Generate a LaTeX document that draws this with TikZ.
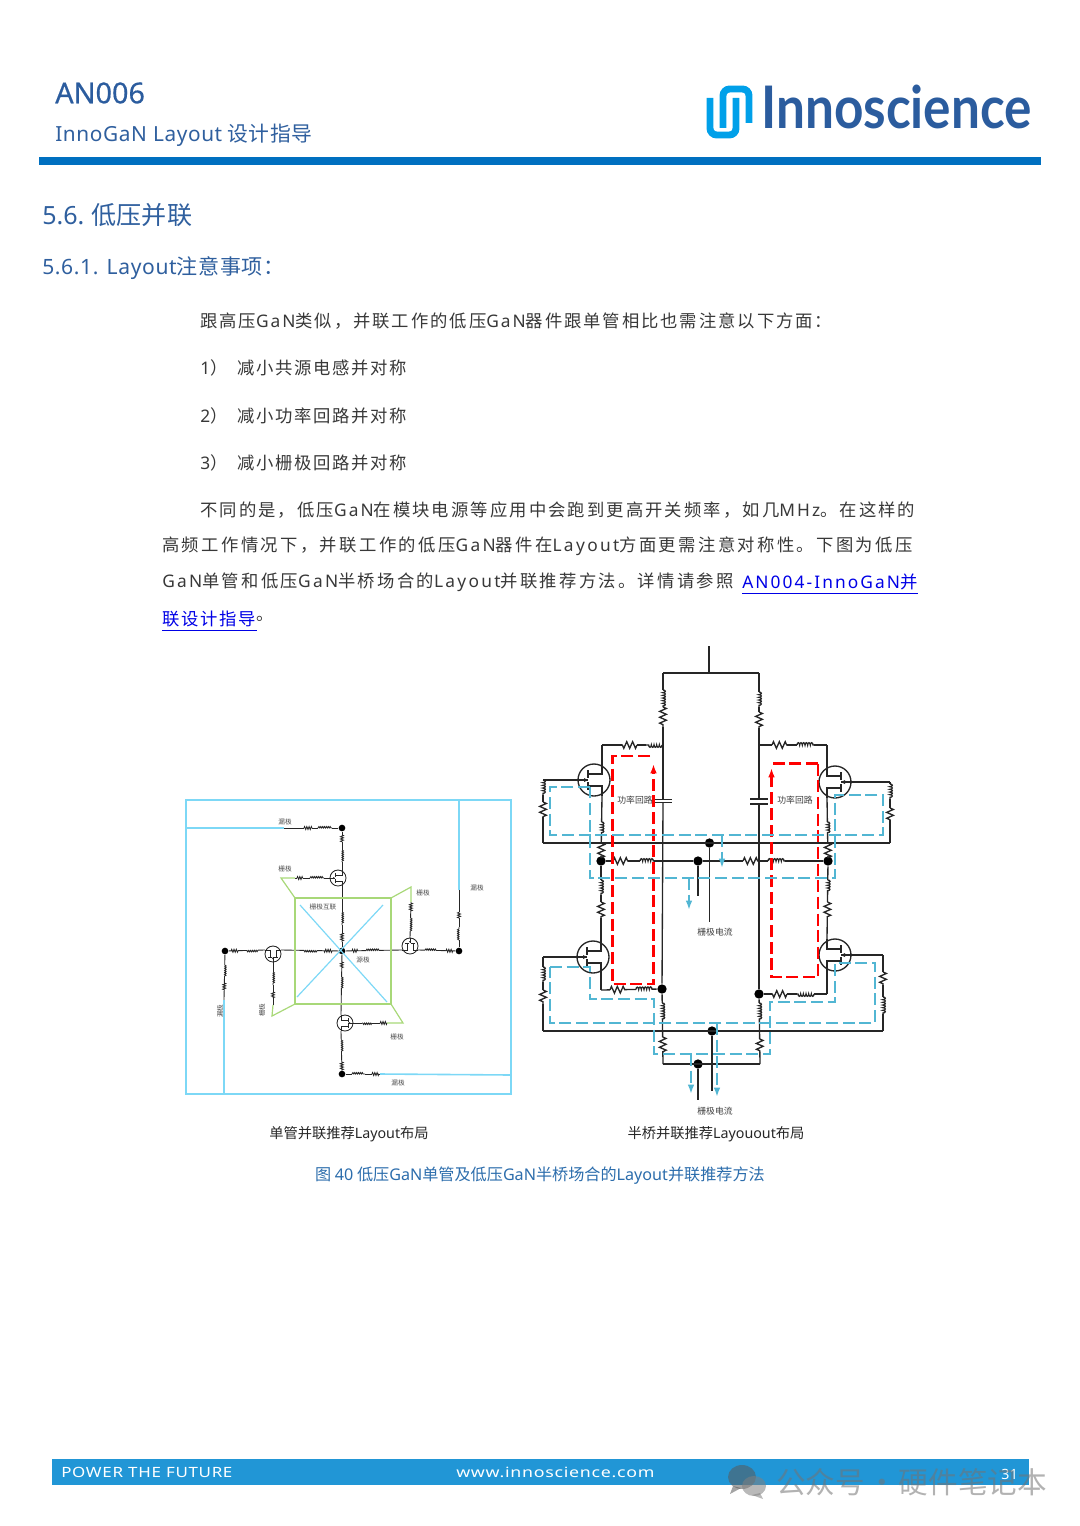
\documentclass[tikz,border=0pt]{standalone}
\usepackage{fontspec}
\usepackage{tikz}
\usetikzlibrary{calc,arrows.meta,decorations.pathmorphing}

\setmainfont{Noto Sans CJK SC}
\newfontfamily\latfont{Noto Sans}
\newfontfamily\medfont[FakeBold=0.5]{Noto Sans}
\newfontfamily\headfont[LetterSpace=3]{Noto Sans CJK SC}
\newfontfamily\headlat[LetterSpace=3]{Noto Sans}
\newfontfamily\bodyfont[LetterSpace=10]{Noto Sans CJK SC}
\newfontfamily\bodylat[LetterSpace=11]{Noto Sans}
\newfontfamily\footfont[LetterSpace=4]{Noto Sans}
\newfontfamily\logofont{Lato}

\definecolor{navy}{HTML}{2F5F9E}
\definecolor{barblue}{HTML}{0070C0}
\definecolor{footblue}{HTML}{2196D6}
\definecolor{iconblue}{HTML}{00A0E9}
\definecolor{logoblue}{HTML}{2B5C9E}
\definecolor{loopblue}{HTML}{52B6D3}
\definecolor{skyline}{HTML}{7DD8F6}
\definecolor{gateline}{HTML}{A8D878}
\definecolor{linkblue}{HTML}{0000E6}

\newcommand{\lsp}{11}
\newcommand{\spaced}[1]{\renewcommand{\lsp}{#1}\addfontfeature{LetterSpace=#1}}
\newcommand{\la}[1]{{\bodylat\addfontfeature{LetterSpace=\lsp} #1}}
\newcommand{\hl}[1]{{\headlat #1}}

% wire with a part of type #3 and a part of type #6, distances in pixels from #1
\newcommand{\chain}[8]{%
  \draw (#1) -- ($(#1)!#4*0.75pt!(#2)$);
  \draw[#3] ($(#1)!#4*0.75pt!(#2)$) -- ($(#1)!#5*0.75pt!(#2)$);
  \draw ($(#1)!#5*0.75pt!(#2)$) -- ($(#1)!#7*0.75pt!(#2)$);
  \draw[#6] ($(#1)!#7*0.75pt!(#2)$) -- ($(#1)!#8*0.75pt!(#2)$);
  \draw ($(#1)!#8*0.75pt!(#2)$) -- (#2);
}

\tikzset{
  body/.style={anchor=west,inner sep=0pt,yshift=-0.6pt,text=black!78,font=\bodyfont\fontsize{13pt}{15pt}\selectfont},
  head/.style={anchor=west,inner sep=0pt,text=navy},
  tiny/.style={inner sep=0pt,text=black!70,font=\fontsize{5pt}{6pt}\selectfont},
  small/.style={inner sep=0pt,text=black!75,font=\fontsize{6.6pt}{8pt}\selectfont},
  capt/.style={inner sep=0pt,text=black!85,font=\fontsize{10.7pt}{12pt}\selectfont},
  foot/.style={anchor=west,inner sep=0pt,text=white,font=\footfont\fontsize{10.6pt}{12pt}\selectfont},
  dot/.style={circle,fill=black,inner sep=0pt,minimum size=#1},
  res/.style={decorate,decoration={zigzag,segment length=4.4pt,amplitude=2.5pt}},
  ind/.style={decorate,decoration={bumps,segment length=4pt,amplitude=1.7pt}},
  ress/.style={decorate,decoration={zigzag,segment length=1.7pt,amplitude=1.1pt}},
  inds/.style={decorate,decoration={bumps,segment length=2.8pt,amplitude=1.1pt}},
  redloop/.style={draw=red,line width=1.9pt,dash pattern=on 9pt off 3.5pt},
  blueloop/.style={draw=loopblue,line width=2pt,dash pattern=on 9pt off 3.5pt},
  flow/.style={-{Latex[length=7pt,width=5pt]}},
  pics/fet/.style={code={
    \draw (0,0) circle (16);
    \draw (-16,0) -- (-6,0);
    \fill (-6,0) -- (-10,-2) -- (-10,2) -- cycle;
    \draw (-6,-10) -- (-6,-2) (-6,2) -- (-6,10);
    \draw (-6,-6) -- (8,-6) -- (8,-16);
    \draw (-6,6) -- (8,6) -- (8,16);
    \coordinate (-g) at (-16,0);
    \coordinate (-d) at (8,-16);
    \coordinate (-s) at (8,16);
  }},
}

\begin{document}
\begin{tikzpicture}[x=0.75pt,y=-0.75pt]
  \useasboundingbox (0,0) rectangle (1080,1526);

  % header
  \node[head,text=logoblue,font=\medfont\fontsize{21.6pt}{26pt}\selectfont] (docid) at (55,93) {AN006};
  \node[head,font=\headfont\fontsize{15.6pt}{19pt}\selectfont] (doctitle) at (55,135) {\hl{InnoGaN Layout} 设计指导};
  \fill[barblue] (39,157) rectangle (1041,165);
  \draw[iconblue,line width=5.2pt,rounded corners=5pt] (710,98) -- (710,135) -- (736,135) -- (736,98);
  \draw[iconblue,line width=5.2pt,rounded corners=5pt] (723,128) -- (723,89) -- (749,89) -- (749,123);
  \node[anchor=west,inner sep=0pt,text=logoblue] (logo) at (761,107)
    {\scalebox{0.875}[1]{\logofont\bfseries\fontsize{44pt}{50pt}\selectfont Innoscience}};

  \node[head,font=\fontsize{18.8pt}{22pt}\selectfont] (sec) at (42,215) {{\latfont 5.6.} 低压并联};
  \node[head,font=\headfont\fontsize{15.8pt}{19pt}\selectfont] (subsec) at (42,268.5) {\hl{5.6.1. Layout}注意事项：};

  % text
  \node[body] (l1) at (200,320) {\spaced{11.2}跟高压\la{GaN}类似，并联工作的低压\la{GaN}器件跟单管相比也需注意以下方面：};
  \node[body] (n1) at (200,367) {\la{1}）};
  \node[body] (t1) at (237,367) {减小共源电感并对称};
  \node[body] (n2) at (200,415) {\la{2}）};
  \node[body] (t2) at (237,415) {减小功率回路并对称};
  \node[body] (n3) at (200,462) {\la{3}）};
  \node[body] (t3) at (237,462) {减小栅极回路并对称};
  \node[body] (l2) at (200,509) {\spaced{12}不同的是，低压\la{GaN}在模块电源等应用中会跑到更高开关频率，如几\la{MHz}。在这样的};
  \node[body] (l3) at (162,545) {\spaced{13.7}高频工作情况下，并联工作的低压\la{GaN}器件在\la{Layout}方面更需注意对称性。下图为低压};
  \node[body] (l4) at (162,581) {\spaced{13.2}\la{GaN}单管和低压\la{GaN}半桥场合的\la{Layout}并联推荐方法。详情请参照};
  \node[body,text=linkblue] (l4b) at (742,581) {\spaced{12}\la{AN004-InnoGaN}并};
  \node[body,text=linkblue] (l5) at (162,618) {联设计指导};
  \node[body,yshift=0.6pt] (l5b) at (l5.east) {。};
  \draw[linkblue] (742,593) -- (918,593);
  \draw[linkblue] (162,630) -- (257,630);

  % half bridge
  \foreach \n/\x/\y in {stub/709/646,stubb/709/673,tl/663/673,tr/759/673,capla/663/800,caplb/663/803,
      capra/759/799,caprb/759/804,tapl/663/745,tapr/759/745,dl/602/745,dr/827/745,
      gl/543/780,gr/890/782,bl/543/843,br/890/843,gdown/709.5/922,bdown/698/896,
      gl2/543/957,gr2/883/955,bl2/543/1031,br2/883/1031,edown/712/1091,
      sl2/601/990,sr2/827/994,lb/663/1064,rb/760/1064,fdown/698/1100}
    \coordinate (\n) at (\x,\y);
  \begin{scope}[line width=1pt,black!85]
    \pic (q1) at (594,780) {fet};
    \pic[xscale=-1] (q2) at (835,782) {fet};
    \pic (q3) at (593,957) {fet};
    \pic[xscale=-1] (q4) at (835,955) {fet};
    \node[dot=7pt] (ja) at (601,861) {};
    \node[dot=7pt] (jb) at (698,861) {};
    \node[dot=7pt] (jc) at (828,861) {};
    \node[dot=7pt] (jg) at (709.5,843) {};
    \node[dot=7pt] (jd) at (662,989) {};
    \node[dot=7pt] (jh) at (759,994) {};
    \node[dot=7pt] (je) at (712,1031) {};
    \node[dot=7pt] (jf) at (698,1064) {};

    \draw (stub) -- (stubb);
    \draw (tl) -- (tr);
    \chain{tl}{capla}{ind}{17}{34}{res}{34}{54}
    \chain{tr}{capra}{ind}{19}{34}{res}{39}{55}
    \draw (caplb) -- (jd);
    \draw (caprb) -- (jh);
    \draw (653,799.5) -- (672,799.5) (653,802.5) -- (672,802.5);
    \draw (750,799) -- (768,799) (750,804) -- (768,804);

    \chain{tapl}{dl}{ind}{1}{17}{res}{26}{41}
    \chain{tapr}{dr}{res}{13}{28}{ind}{38}{55}
    \draw (dl) -- (q1-d);
    \draw (dr) -- (q2-d);
    \chain{q1-s}{ja}{ind}{26}{37}{res}{47}{62}
    \chain{q2-s}{jc}{ind}{24}{35}{res}{45}{60}
    \draw (q1-g) -- (gl);
    \draw (q2-g) -- (gr);
    \chain{gl}{bl}{ind}{0}{15}{res}{22}{37}
    \chain{gr}{br}{ind}{2}{17}{res}{26}{38}
    \draw (bl) -- (br);
    \draw (jg) -- (gdown);
    \chain{ja}{jb}{res}{12}{27}{ind}{39}{53}
    \chain{jb}{jc}{res}{45}{60}{ind}{70}{87}
    \draw (jb) -- (bdown);

    \chain{ja}{q3-d}{ind}{19}{34}{res}{41}{57}
    \chain{jc}{q4-d}{ind}{19}{31}{res}{41}{56}
    \draw (q3-s) -- (sl2);
    \draw (q4-s) -- (sr2);
    \chain{sl2}{jd}{res}{9}{24}{ind}{35}{52}
    \chain{sr2}{jh}{ind}{13}{30}{res}{40}{55}
    \draw (q3-g) -- (gl2);
    \draw (q4-g) -- (gr2);
    \chain{gl2}{bl2}{ind}{10}{25}{res}{33}{47}
    \chain{gr2}{br2}{res}{17}{30}{ind}{42}{59}
    \draw (bl2) -- (br2);
    \draw (je) -- (edown);
    \chain{jd}{lb}{ind}{14}{31}{res}{48}{64}
    \chain{jh}{rb}{ind}{9}{26}{res}{45}{59}
    \draw (lb) -- (rb);
    \draw (jf) -- (fdown);
  \end{scope}

  \draw[redloop,flow] (650,756) -- (612.5,756) -- (612.5,984) -- (653.5,984) -- (653.5,764);
  \draw[redloop,flow] (818,763.5) -- (818,977) -- (771.5,977) -- (771.5,768);
  \draw[redloop] (818,763.5) -- (771.5,763.5);
  \draw[blueloop] (590,787) -- (550,787) -- (550,835) -- (883,835) -- (883,795) -- (835,795) -- (835,878) -- (590,878) -- cycle;
  \draw[blueloop,flow] (722,835) -- (722,868);
  \draw[blueloop,flow] (689,878) -- (689,910);
  \draw[blueloop] (550,967) -- (590,967) -- (590,999) -- (654,999) -- (654,1054) -- (770,1054) -- (770,1002)
    -- (835,1002) -- (835,963) -- (875,963) -- (875,1023) -- (550,1023) -- cycle;
  \draw[blueloop,flow] (717,1023) -- (717,1097);
  \draw[blueloop,flow] (691,1054) -- (691,1094);

  \node[small] (loopl) at (635,800) {功率回路};
  \node[small] (loopr) at (795,800) {功率回路};
  \node[small] (igate) at (715,932) {栅极电流};
  \node[small] (igateb) at (715,1111) {栅极电流};
  \node[capt] (captb) at (716,1134) {半桥并联推荐{\latfont Layouout}布局};

  % single switch
  \draw[skyline,line width=1.2pt] (186,800) rectangle (511,1094);
  \foreach \n/\x/\y in {dtop/284/828,bltop/186/828,gtop/295/878,gtipt/281/878,sqa/295/898,sqb/391/898,sqc/391/1004,sqd/295/1004,
      gright/411/902,gtipr/411/887,dright/459/890,brtop/459/800,gbot/387/1023,gtipb/403/1023,
      dbot/380/1074,brbot/511/1075,dleft/224/1000,blleft/224/1094,gleft/273/1005,gtipl/272/1016}
    \coordinate (\n) at (\x,\y);
  \begin{scope}[line width=0.65pt,black!85]
    \pic[scale=0.5] (pt) at (338,878) {fet};
    \pic[scale=0.5,rotate=-90] (pr) at (410,946) {fet};
    \pic[scale=0.5,rotate=180] (pb) at (345,1023) {fet};
    \pic[scale=0.5,rotate=90] (pl) at (273,954) {fet};
    \node[dot=5pt] (center) at (342,951) {};
    \node[dot=5pt] (jtop) at (342,828) {};
    \node[dot=5pt] (jright) at (459,951) {};
    \node[dot=5pt] (jbot) at (342,1074) {};
    \node[dot=5pt] (jleft) at (225,951) {};

    \chain{dtop}{jtop}{ress}{20}{28}{inds}{34}{48}
    \chain{jtop}{pt-d}{ress}{7}{14}{inds}{22}{34}
    \chain{pt-s}{center}{inds}{26}{39}{ress}{47}{56}
    \chain{gtop}{pt-g}{ress}{2}{8}{inds}{15}{29}
    \chain{gright}{pr-g}{ress}{1}{9}{inds}{16}{30}
    \chain{center}{pr-s}{ress}{10}{16}{inds}{24}{38}
    \chain{pr-d}{jright}{inds}{7}{20}{ress}{28}{35}
    \chain{jright}{dright}{inds}{11}{24}{ress}{33}{39}
    \chain{center}{pb-s}{ress}{11}{17}{inds}{26}{39}
    \chain{pb-d}{jbot}{inds}{9}{22}{ress}{31}{39}
    \chain{gbot}{pb-g}{ress}{0}{7}{inds}{15}{25}
    \chain{jbot}{dbot}{inds}{10}{23}{ress}{30}{37}
    \chain{center}{pl-s}{ress}{10}{18}{inds}{25}{39}
    \chain{pl-d}{jleft}{inds}{7}{20}{ress}{27}{34}
    \chain{jleft}{dleft}{inds}{14}{26}{ress}{32}{39}
    \chain{pl-g}{gleft}{inds}{10}{23}{ress}{30}{36}
  \end{scope}
  \draw[skyline,line width=1.2pt] (bltop) -- (dtop);
  \draw[skyline,line width=1.2pt] (dright) -- (brtop);
  \draw[skyline,line width=1.2pt] (dbot) -- (brbot);
  \draw[skyline,line width=1.2pt] (dleft) -- (blleft);
  \draw[gateline,line width=0.9pt] (sqa) rectangle (sqc);
  \draw[gateline,line width=0.9pt] (gtop) -- (gtipt) -- (sqa);
  \draw[gateline,line width=0.9pt] (sqb) -- (gtipr) -- (gright);
  \draw[gateline,line width=0.9pt] (sqc) -- (gtipb) -- (gbot);
  \draw[gateline,line width=0.9pt] (gleft) -- (gtipl) -- (sqd);
  \draw[skyline,line width=0.9pt] (300,905) -- (387,1002);
  \draw[skyline,line width=0.9pt] (383,905) -- (297,997);

  \node[tiny] (la) at (285,822) {漏极};
  \node[tiny] (lb) at (285,869) {栅极};
  \node[tiny] (lc) at (323,907) {栅极互联};
  \node[tiny] (ld) at (363,960) {源极};
  \node[tiny] (le) at (423,893) {栅极};
  \node[tiny] (lf) at (477,888) {漏极};
  \node[tiny] (lg) at (397,1037) {栅极};
  \node[tiny] (lh) at (398,1083) {漏极};
  \node[tiny,rotate=90] (li) at (220,1011) {漏极};
  \node[tiny,rotate=90] (lj) at (262,1010) {栅极};
  \node[capt] (capta) at (349,1134) {单管并联推荐{\latfont Layout}布局};

  \node[inner sep=0pt,text=navy!75!footblue,font=\fontsize{12.1pt}{14pt}\selectfont] (figcap) at (540,1176)
    {图 {\latfont 40} 低压{\latfont GaN}单管及低压{\latfont GaN}半桥场合的{\latfont Layout}并联推荐方法};

  % footer
  \fill[footblue] (52,1459) rectangle (1029,1485);
  \node[foot] (motto) at (61,1472) {\scalebox{1.2}[1]{POWER THE FUTURE}};
  \node[foot] (site) at (456,1472) {\scalebox{1.26}[1]{www.innoscience.com}};
  \node[foot] (page) at (1001,1474) {31};
  \begin{scope}[opacity=0.55]
    \fill[black!65] (742,1477) ellipse (14 and 12);
    \fill[black!65] (733,1486) -- (730,1494) -- (741,1488) -- cycle;
    \fill[black!50] (754,1486) ellipse (12 and 10);
    \fill[black!50] (760,1493) -- (763,1499) -- (752,1495) -- cycle;
    \node[anchor=west,inner sep=0pt,text=black!55,font=\fontsize{22.2pt}{26pt}\selectfont] (mark) at (776,1482) {公众号\hspace{1.6pt}·\hspace{1.6pt}硬件笔记本};
  \end{scope}
\end{tikzpicture}
\end{document}
